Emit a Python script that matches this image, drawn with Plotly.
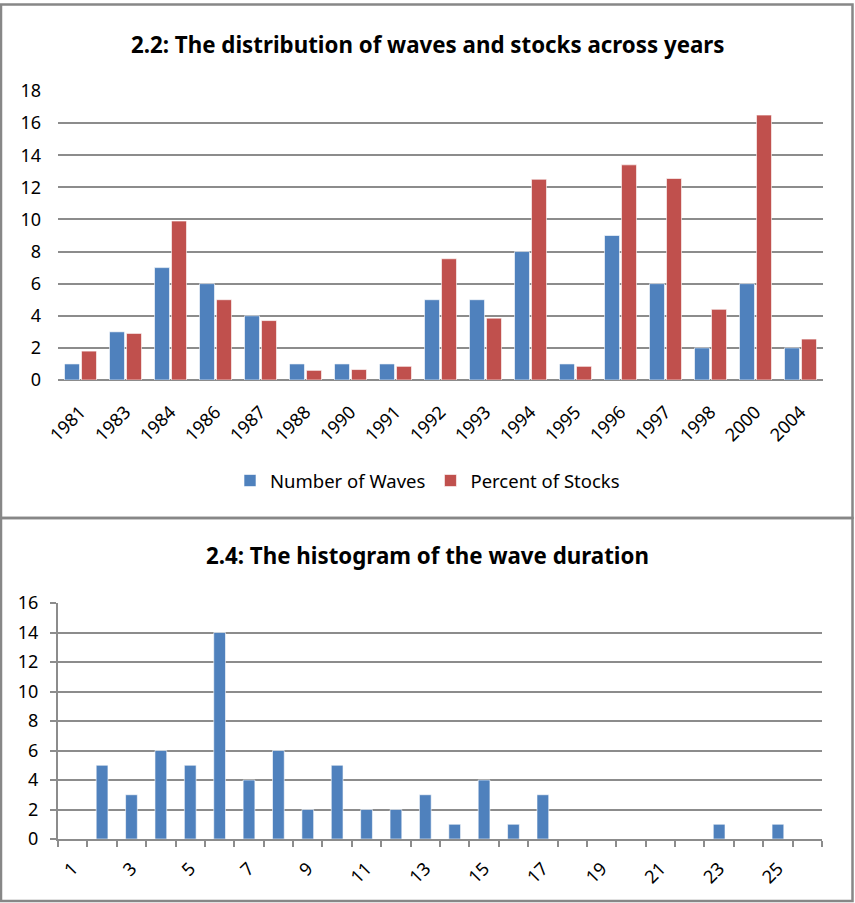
import plotly.graph_objects as go

# ---- data: chart 2.2 ----
years = ["1981", "1983", "1984", "1986", "1987", "1988", "1990", "1991", "1992",
         "1993", "1994", "1995", "1996", "1997", "1998", "2000", "2004"]
number_of_waves = [1, 3, 7, 6, 4, 1, 1, 1, 5, 5, 8, 1, 9, 6, 2, 6, 2]
percent_of_stocks = [1.8, 2.9, 9.9, 5.0, 3.7, 0.6, 0.65, 0.85, 7.55, 3.85,
                     12.5, 0.85, 13.4, 12.55, 4.4, 16.5, 2.55]

# ---- data: chart 2.4 ----
durations = list(range(1, 27))
duration_counts = [0, 5, 3, 6, 5, 14, 4, 6, 2, 5, 2, 2, 3, 1, 4, 1, 3,
                   0, 0, 0, 0, 0, 1, 0, 1, 0]
duration_tickvals = [1, 3, 5, 7, 9, 11, 13, 15, 17, 19, 21, 23, 25]

W, H = 855, 903
BLUE = "#4F81BD"
RED = "#C0504D"
GRID = "#8C8C8C"
FONT = "Noto Sans"

def px(x):
    return x / W

def py(y):
    return 1 - y / H

fig = go.Figure()

fig.add_trace(go.Bar(x=years, y=number_of_waves, name="Number of Waves",
                     marker=dict(color=BLUE, line=dict(color="rgba(255,255,255,0.6)", width=1)),
                     xaxis="x", yaxis="y"))
fig.add_trace(go.Bar(x=years, y=percent_of_stocks, name="Percent of Stocks",
                     marker=dict(color=RED, line=dict(color="rgba(255,255,255,0.6)", width=1)),
                     xaxis="x", yaxis="y"))
fig.add_trace(go.Bar(x=durations, y=duration_counts, name="Duration",
                     marker=dict(color=BLUE, line=dict(color="rgba(255,255,255,0.6)", width=1)),
                     width=0.4, showlegend=False,
                     xaxis="x2", yaxis="y2"))

tickfont = dict(family=FONT, size=18, color="#000000")

fig.update_layout(
    template="none",
    width=W, height=H,
    autosize=False,
    margin=dict(l=0, r=0, t=0, b=0, pad=0, autoexpand=False),
    paper_bgcolor="white", plot_bgcolor="white",
    barmode="group", bargap=0.244, bargroupgap=0.12,
    font=dict(family=FONT, size=18, color="#000000"),
    showlegend=True,
    legend=dict(orientation="h", x=0.5, xanchor="center", y=py(481), yanchor="middle",
                font=dict(family=FONT, size=18.5, color="#000000"),
                itemwidth=30, traceorder="normal", bgcolor="rgba(0,0,0,0)"),
    xaxis=dict(domain=[px(58), px(823)], anchor="y", type="category", automargin=False,
               showgrid=False, showline=False, zeroline=False, ticks="", tickangle=-45,
               tickfont=tickfont, ticklabelstandoff=17),
    yaxis=dict(domain=[py(380), py(91)], anchor="x", range=[0, 18], dtick=2, automargin=False,
               showgrid=True, gridcolor=GRID, gridwidth=2, zeroline=True,
               zerolinecolor=GRID, zerolinewidth=2, showline=False, ticks="",
               tickfont=tickfont, ticklabelstandoff=16),
    xaxis2=dict(domain=[px(58), px(822)], anchor="y2", type="linear", automargin=False,
                range=[0.5, 26.5], tickmode="array", tickvals=duration_tickvals,
                showgrid=False, zeroline=False, showline=True, linecolor=GRID, linewidth=2,
                ticks="", tickangle=-45, tickfont=tickfont, ticklabelstandoff=10,
                minor=dict(ticks="outside", tick0=0.5, dtick=1, ticklen=6,
                           tickcolor=GRID, tickwidth=2, showgrid=False)),
    yaxis2=dict(domain=[py(839), py(603)], anchor="x2", range=[0, 16], dtick=2, automargin=False,
                showgrid=True, gridcolor=GRID, gridwidth=2, zeroline=False,
                showline=True, linecolor=GRID, linewidth=2,
                ticks="outside", ticklen=6, tickcolor=GRID, tickwidth=2,
                tickfont=tickfont, ticklabelstandoff=8),
    annotations=[
        dict(text="<b>2.2: The distribution of waves and stocks across years</b>",
             x=0.5, y=py(45), xref="paper", yref="paper", xanchor="center", yanchor="middle",
             showarrow=False, font=dict(family=FONT, size=22.3, color="#000000")),
        dict(text="<b>2.4: The histogram of the wave duration</b>",
             x=0.5, y=py(555), xref="paper", yref="paper", xanchor="center", yanchor="middle",
             showarrow=False, font=dict(family=FONT, size=22.3, color="#000000")),
    ],
    shapes=[
        dict(type="rect", xref="paper", yref="paper", x0=px(1), x1=px(852.5), y0=py(518), y1=py(4.5),
             line=dict(color="#878787", width=2.5), fillcolor="rgba(0,0,0,0)"),
        dict(type="rect", xref="paper", yref="paper", x0=px(1), x1=px(852.5), y0=py(901), y1=py(518),
             line=dict(color="#878787", width=2.5), fillcolor="rgba(0,0,0,0)"),
    ],
)

fig.write_html(
    "out.html",
    config={"displayModeBar": False, "staticPlot": True},
    post_script="document.body.style.margin='0';document.body.style.padding='0';"
                "document.body.style.overflow='hidden';",
)
